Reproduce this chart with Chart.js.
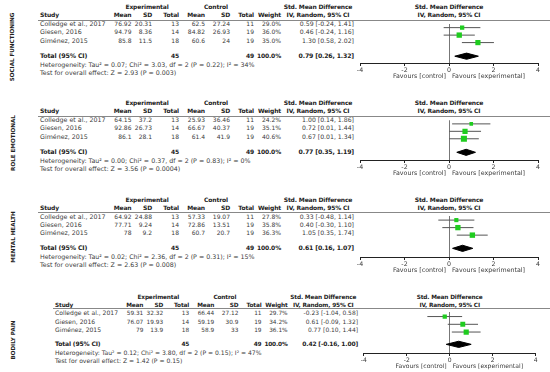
<!DOCTYPE html>
<html>
<head>
<meta charset="utf-8">
<script src="https://cdn.jsdelivr.net/npm/chart.js@4.4.0/dist/chart.umd.min.js"></script>
<style>
  body { margin:0; background:#fff; width:550px; height:372px; position:relative; overflow:hidden;
         font-family:"DejaVu Sans", Verdana, sans-serif; color:#3a3a3a; }
  .t { position:absolute; white-space:nowrap; line-height:8px; height:8px; }
  .b { font-weight:bold; color:#222; letter-spacing:-0.15px; }
  .rule { position:absolute; height:1px; background:#888; }
  .side { position:absolute; font-weight:bold; color:#222; white-space:nowrap; transform:rotate(-90deg); transform-origin:center; }
  canvas { position:absolute; }
</style>
</head>
<body>
<script>
// shared study info
var studies = ['Colledge et al., 2017', 'Giesen, 2016', 'Giménez, 2015'];
var expTotal = [13, 14, 18];
var ctrlTotal = [11, 19, 19];
var xTicks = [-4, -2, 0, 2, 4];

// social functioning
var sfExpMean = [76.92, 94.79, 85.8], sfExpSD = [20.31, 8.36, 11.5];
var sfCtrlMean = [62.5, 84.82, 60.6], sfCtrlSD = [27.24, 26.93, 24];
var sfWeight = [29.0, 36.0, 35.0];
var sfSmd = [0.59, 0.46, 1.30], sfLo = [-0.24, -0.24, 0.58], sfHi = [1.41, 1.16, 2.02];
var sfTotal = [0.79, 0.26, 1.32];
var sfHet = 'Heterogeneity: Tau² = 0.07; Chi² = 3.03, df = 2 (P = 0.22); I² = 34%';
var sfTest = 'Test for overall effect: Z = 2.93 (P = 0.003)';

// role emotional
var reExpMean = [64.15, 92.86, 86.1], reExpSD = [37.2, 26.73, 28.1];
var reCtrlMean = [25.93, 66.67, 61.4], reCtrlSD = [36.46, 40.37, 41.9];
var reWeight = [24.2, 35.1, 40.6];
var reSmd = [1.00, 0.72, 0.67], reLo = [0.14, 0.01, 0.01], reHi = [1.86, 1.44, 1.34];
var reTotal = [0.77, 0.35, 1.19];
var reHet = 'Heterogeneity: Tau² = 0.00; Chi² = 0.37, df = 2 (P = 0.83); I² = 0%';
var reTest = 'Test for overall effect: Z = 3.56 (P = 0.0004)';

// mental health
var mhExpMean = [64.92, 77.71, 78], mhExpSD = [24.88, 9.24, 9.2];
var mhCtrlMean = [57.33, 72.86, 60.7], mhCtrlSD = [19.07, 13.51, 20.7];
var mhWeight = [27.8, 35.8, 36.3];
var mhSmd = [0.33, 0.40, 1.05], mhLo = [-0.48, -0.30, 0.35], mhHi = [1.14, 1.10, 1.74];
var mhTotal = [0.61, 0.16, 1.07];
var mhHet = 'Heterogeneity: Tau² = 0.02; Chi² = 2.36, df = 2 (P = 0.31); I² = 15%';
var mhTest = 'Test for overall effect: Z = 2.63 (P = 0.008)';

// bodily pain
var bpExpMean = [59.31, 76.07, 79], bpExpSD = [32.32, 19.93, 13.9];
var bpCtrlMean = [66.44, 59.19, 58.9], bpCtrlSD = [27.12, 30.9, 33];
var bpWeight = [29.7, 34.2, 36.1];
var bpSmd = [-0.23, 0.61, 0.77], bpLo = [-1.04, -0.09, 0.10], bpHi = [0.58, 1.32, 1.44];
var bpTotal = [0.42, -0.16, 1.00];
var bpHet = 'Heterogeneity: Tau² = 0.12; Chi² = 3.80, df = 2 (P = 0.15); I² = 47%';
var bpTest = 'Test for overall effect: Z = 1.42 (P = 0.15)';

// layout per panel: top = header rule y, sx/ox = horizontal scale/shift, rows = row offsets below rule
var panels = [
  { name:'SOCIAL FUNCTIONING', top:20, sx:1, ox:0, hd:[-13.5, -5], rows:[4, 12.3, 20.5], axis:43, side:47,
    em:sfExpMean, es:sfExpSD, cm:sfCtrlMean, cs:sfCtrlSD, w:sfWeight, smd:sfSmd, lo:sfLo, hi:sfHi, tot:sfTotal, het:sfHet, test:sfTest },
  { name:'ROLE EMOTIONAL', top:116, sx:1, ox:0, hd:[-13.5, -5], rows:[4, 12.3, 20.5], axis:44, side:143,
    em:reExpMean, es:reExpSD, cm:reCtrlMean, cs:reCtrlSD, w:reWeight, smd:reSmd, lo:reLo, hi:reHi, tot:reTotal, het:reHet, test:reTest },
  { name:'MENTAL HEALTH', top:212, sx:1, ox:0, hd:[-12.5, -4.5], rows:[4.5, 12.8, 21], axis:45, side:237,
    em:mhExpMean, es:mhExpSD, cm:mhCtrlMean, cs:mhCtrlSD, w:mhWeight, smd:mhSmd, lo:mhLo, hi:mhHi, tot:mhTotal, het:mhHet, test:mhTest },
  { name:'BODILY PAIN', top:308, sx:0.965, ox:16.4, hd:[-11.5, -3.5], rows:[5, 13.5, 22], axis:45, side:340,
    em:bpExpMean, es:bpExpSD, cm:bpCtrlMean, cs:bpCtrlSD, w:bpWeight, smd:bpSmd, lo:bpLo, hi:bpHi, tot:bpTotal, het:bpHet, test:bpTest }
];

// column right edges (panel 1 scale)
var colX = { study:40, mean:131.5, sd:152, tot:179, cmean:205, csd:230, ctot:254, w:281, smd:354, expC:147, ctrlC:216, smdC:318 };
var numFont = 6, textFont = 6.3;

function txt(x, cy, s, align, cls, fs) {
  var d = document.createElement('div');
  d.className = 't' + (cls ? ' ' + cls : '');
  d.textContent = s;
  d.style.fontSize = fs + 'px';
  d.style.top = (cy - 4) + 'px';
  if (align === 'r') { d.style.left = (x - 200) + 'px'; d.style.width = '200px'; d.style.textAlign = 'right'; }
  else if (align === 'c') { d.style.left = (x - 100) + 'px'; d.style.width = '200px'; d.style.textAlign = 'center'; }
  else { d.style.left = x + 'px'; }
  document.body.appendChild(d);
}
function fmtCI(v, lo, hi) { return v.toFixed(2) + ' [' + lo.toFixed(2) + ', ' + hi.toFixed(2) + ']'; }
function sum(a) { return a.reduce(function (m, n) { return m + n; }, 0); }

// favours labels under the axis
var favoursPlugin = {
  id: 'favours',
  afterDraw: function (chart, args, opts) {
    var ctx = chart.ctx, x0 = chart.scales.x.getPixelForValue(0), y = chart.chartArea.bottom + 13;
    ctx.save();
    ctx.font = opts.size + 'px "DejaVu Sans", Verdana, sans-serif';
    ctx.fillStyle = '#3a3a3a';
    ctx.textBaseline = 'middle';
    ctx.textAlign = 'right'; ctx.fillText('Favours [control]', x0 - 3, y);
    ctx.textAlign = 'left';  ctx.fillText('Favours [experimental]', x0 + 3, y);
    ctx.restore();
  }
};

panels.forEach(function (p) {
  var ly = p.top;
  var X = function (x) { return p.ox + p.sx * x; };
  var fn = numFont * p.sx, ft = textFont * p.sx;

  // side label
  var s = document.createElement('div');
  s.className = 'side'; s.textContent = p.name;
  s.style.fontSize = '5.6px';
  document.body.appendChild(s);
  var sw = s.offsetWidth, sh = s.offsetHeight;
  s.style.left = (12.5 - sw / 2) + 'px'; s.style.top = (p.side - sh / 2) + 'px';

  // headers
  var h1 = ly + p.hd[0], h2 = ly + p.hd[1];
  txt(X(colX.expC), h1, 'Experimental', 'c', 'b', fn);
  txt(X(colX.ctrlC), h1, 'Control', 'c', 'b', fn);
  txt(X(colX.smdC), h1, 'Std. Mean Difference', 'c', 'b', fn);
  txt(X(449), h1, 'Std. Mean Difference', 'c', 'b', fn);
  txt(X(colX.study), h2, 'Study', 'l', 'b', fn);
  txt(X(colX.mean), h2, 'Mean', 'r', 'b', fn);
  txt(X(colX.sd), h2, 'SD', 'r', 'b', fn);
  txt(X(colX.tot), h2, 'Total', 'r', 'b', fn);
  txt(X(colX.cmean), h2, 'Mean', 'r', 'b', fn);
  txt(X(colX.csd), h2, 'SD', 'r', 'b', fn);
  txt(X(colX.ctot), h2, 'Total', 'r', 'b', fn);
  txt(X(colX.w), h2, 'Weight', 'r', 'b', fn);
  txt(X(colX.smdC), h2, 'IV, Random, 95% CI', 'c', 'b', fn);
  txt(X(449), h2, 'IV, Random, 95% CI', 'c', 'b', fn);
  var rule = document.createElement('div');
  rule.className = 'rule'; rule.style.left = X(38) + 'px'; rule.style.width = (550 - X(38)) + 'px'; rule.style.top = ly + 'px';
  document.body.appendChild(rule);

  // study rows
  studies.forEach(function (st, i) {
    var cy = ly + p.rows[i];
    txt(X(colX.study), cy, st, 'l', '', ft);
    txt(X(colX.mean), cy, String(p.em[i]), 'r', '', fn);
    txt(X(colX.sd), cy, String(p.es[i]), 'r', '', fn);
    txt(X(colX.tot), cy, String(expTotal[i]), 'r', '', fn);
    txt(X(colX.cmean), cy, String(p.cm[i]), 'r', '', fn);
    txt(X(colX.csd), cy, String(p.cs[i]), 'r', '', fn);
    txt(X(colX.ctot), cy, String(ctrlTotal[i]), 'r', '', fn);
    txt(X(colX.w), cy, p.w[i].toFixed(1) + '%', 'r', '', fn);
    txt(X(colX.smd), cy, fmtCI(p.smd[i], p.lo[i], p.hi[i]), 'r', '', fn * 1.03);
  });
  var ty = ly + 35.5;
  txt(X(colX.study), ty, 'Total (95% CI)', 'l', 'b', ft);
  txt(X(colX.tot), ty, String(sum(expTotal)), 'r', 'b', fn);
  txt(X(colX.ctot), ty, String(sum(ctrlTotal)), 'r', 'b', fn);
  txt(X(colX.w), ty, Math.round(sum(p.w)).toFixed(1) + '%', 'r', 'b', fn);
  txt(X(colX.smd), ty, fmtCI(p.tot[0], p.tot[1], p.tot[2]), 'r', 'b', fn * 1.03);
  txt(X(colX.study), ly + 44.5, p.het, 'l', '', ft);
  txt(X(colX.study), ly + 52.5, p.test, 'l', '', ft);

  // forest plot canvas: chart area runs from the rule down to the axis
  var cvLeft = 340, cvH = 64;
  var cv = document.createElement('canvas');
  cv.width = 210; cv.height = cvH;
  cv.style.left = cvLeft + 'px'; cv.style.top = ly + 'px';
  cv.style.width = '210px'; cv.style.height = cvH + 'px';
  document.body.appendChild(cv);

  var r0 = p.rows[0], sp = (p.rows[2] - p.rows[0]) / 2;
  var yMin = -r0 / sp, yMax = (p.axis - r0) / sp;
  var totalSlot = (35.5 - r0) / sp, dh = 3.4 / sp;

  var datasets = [];
  datasets.push({
    data: p.smd.map(function (v, i) { return { x: v, y: i }; }),
    showLine: false, pointStyle: 'rect', backgroundColor: '#1fcc1f', borderWidth: 0,
    pointRadius: p.w.map(function (w) { return w * 0.105 * p.sx; }), order: 0
  });
  datasets.push({
    data: [{ x: p.tot[1], y: totalSlot }, { x: p.tot[0], y: totalSlot - dh }, { x: p.tot[2], y: totalSlot },
           { x: p.tot[0], y: totalSlot + dh }, { x: p.tot[1], y: totalSlot }],
    showLine: true, fill: 'shape', backgroundColor: '#000', borderColor: '#000', borderWidth: 1,
    pointRadius: 0, tension: 0, order: 1
  });
  p.smd.forEach(function (v, i) {
    datasets.push({
      data: [{ x: p.lo[i], y: i }, { x: p.hi[i], y: i }],
      showLine: true, borderColor: '#555', borderWidth: 1, pointRadius: 0, order: 2
    });
  });

  new Chart(cv, {
    type: 'scatter',
    data: { datasets: datasets },
    plugins: [favoursPlugin],
    options: {
      responsive: false, animation: false, devicePixelRatio: 1,
      layout: { padding: { left: X(360) - cvLeft, right: 550 - X(538), top: 0, bottom: cvH - p.axis - 12 } },
      plugins: { legend: { display: false }, tooltip: { enabled: false }, favours: { size: ft } },
      scales: {
        x: {
          type: 'linear', min: -4, max: 4,
          afterBuildTicks: function (sc) { sc.ticks = xTicks.map(function (v) { return { value: v }; }); },
          afterFit: function (sc) { sc.height = 12; },
          ticks: { font: { size: ft, family: '"DejaVu Sans", Verdana, sans-serif' }, color: '#3a3a3a', padding: 1, maxRotation: 0 },
          grid: {
            color: function (c) { return c.tick && c.tick.value === 0 ? '#777' : 'rgba(0,0,0,0)'; },
            tickColor: '#222', tickLength: 3, lineWidth: 1
          },
          border: { display: true, color: '#222', width: 1 }
        },
        y: { type: 'linear', reverse: true, min: yMin, max: yMax, display: false }
      }
    }
  });
});
</script>
</body>
</html>
